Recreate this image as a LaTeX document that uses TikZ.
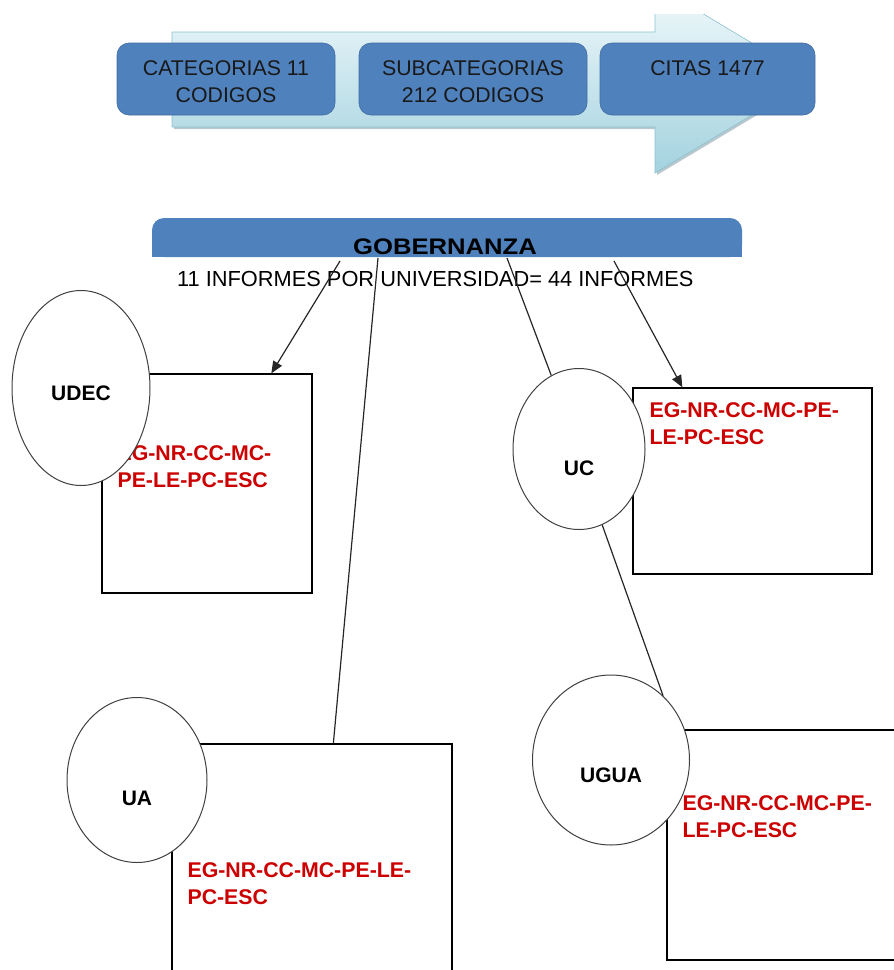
\documentclass[tikz,border=0pt]{standalone}
\usepackage{fontspec}
\setmainfont{Liberation Sans}
\usetikzlibrary{arrows.meta,shapes.geometric,calc}

\definecolor{boxblue}{RGB}{79,129,189}
\definecolor{redtxt}{RGB}{204,0,0}
\definecolor{arrowtop}{RGB}{242,250,252}
\definecolor{arrowbot}{RGB}{163,210,223}
\definecolor{arrowedge}{RGB}{140,192,208}

\begin{document}
\begin{tikzpicture}[x=1pt,y=-1pt,
  bluebox/.style={draw=boxblue!85!black, line width=0.6pt, fill=boxblue,
    rounded corners=12pt, minimum width=#1, minimum height=72pt, inner sep=0pt},
  boxtext/.style={font=\fontsize{21.3}{27}\selectfont, text=black!90,
    align=center, inner sep=0pt, anchor=north},
  redtext/.style={font=\bfseries\fontsize{21.3}{27.5}\selectfont, text=redtxt,
    align=left, inner sep=0pt, anchor=north west},
  ulabel/.style={font=\bfseries\fontsize{21}{25}\selectfont, inner sep=0pt},
  infobox/.style={draw=black, line width=1.3pt, fill=white, inner sep=0pt},
  uni/.style={ellipse, draw=black!75, line width=1pt, fill=white, inner sep=0pt},
  link/.style={draw=black!85, line width=1.2pt},
  arrowlink/.style={link, -{Triangle[length=12pt,width=10pt]}}
]
\useasboundingbox (0,0) rectangle (894,970);
\clip (0,0) rectangle (894,970);

% process arrow behind the three blue boxes
\begin{scope}
  \clip (0,14) rectangle (894,200);
  \fill[arrowedge!70!black, opacity=0.45, shift={(2,2)}]
    (172,32) -- (655,32) -- (655,-15) -- (812,79) -- (655,173) -- (655,127) -- (172,127) -- cycle;
  \shadedraw[top color=arrowtop, bottom color=arrowbot, draw=arrowedge, line width=0.6pt]
    (172,32) -- (655,32) -- (655,-15) -- (812,79) -- (655,173) -- (655,127) -- (172,127) -- cycle;
\end{scope}

% blue stage boxes
\node[bluebox=218pt] (cat) at (226,79) {};
\node[bluebox=228pt] (sub) at (473,79) {};
\node[bluebox=215pt] (cit) at (707.5,79) {};
\node[boxtext] (cattxt) at ([yshift=-17.5pt]cat.north) {CATEGORIAS 11\\CODIGOS};
\node[boxtext] (subtxt) at ([yshift=-17.5pt]sub.north) {SUBCATEGORIAS\\212 CODIGOS};
\node[boxtext] (cittxt) at ([yshift=-17.5pt]cit.north) {CITAS 1477};

% title bar
\node[fill=boxblue, rounded corners=12pt, minimum width=590pt, minimum height=39pt,
  inner sep=0pt] (gob) at (447,237.5) {};
\fill[boxblue] (gob.west) rectangle (gob.south east);
\node[font=\bfseries\fontsize{22.5}{26}\selectfont, inner sep=0pt] (gobtxt) at (445,247)
  {\scalebox{1.14}[1]{GOBERNANZA}};
\node[font=\fontsize{21.8}{25}\selectfont, inner sep=0pt, anchor=west] (inf) at (177,279)
  {11 INFORMES POR UNIVERSIDAD= 44 INFORMES};

% report boxes
\node[infobox, minimum width=210pt, minimum height=219pt] (udecbox) at (207,483.5) {};
\node[infobox, minimum width=239pt, minimum height=186pt] (ucbox) at (752.5,481) {};
\node[infobox, minimum width=280pt, minimum height=246pt] (uabox) at (312,867) {};
\node[infobox, minimum width=253pt, minimum height=230pt] (uguabox) at (793.5,845) {};

\node[redtext] (udectxt) at ([xshift=16pt,yshift=-72pt]udecbox.north west) {EG-NR-CC-MC-\\PE-LE-PC-ESC};
\node[redtext] (uctxt) at ([xshift=17pt,yshift=-15pt]ucbox.north west) {EG-NR-CC-MC-PE-\\LE-PC-ESC};
\node[redtext] (uatxt) at ([xshift=16pt,yshift=-119pt]uabox.north west) {EG-NR-CC-MC-PE-LE-\\PC-ESC};
\node[redtext] (uguatxt) at ([xshift=16pt,yshift=-66pt]uguabox.north west) {EG-NR-CC-MC-PE-\\LE-PC-ESC};

% universities
\node[uni, minimum width=138pt, minimum height=195pt] (udec) at (81,388) {};
\node[uni, minimum width=132pt, minimum height=161pt] (uc) at (579,449) {};
\node[uni, minimum width=140pt, minimum height=165pt] (ua) at (137,780) {};
\node[uni, minimum width=157pt, minimum height=170pt] (ugua) at (611,760) {};
\node[ulabel] (udeclbl) at ([yshift=-5pt]udec.center) {UDEC};
\node[ulabel] (uclbl) at ([yshift=-19pt]uc.center) {UC};
\node[ulabel] (ualbl) at ([yshift=-18pt]ua.center) {UA};
\node[ulabel] (ugualbl) at ([yshift=-15pt]ugua.center) {UGUA};

% connectors from the title bar
\coordinate (g1) at (340,261);
\coordinate (g2) at (378,258);
\coordinate (g3) at (507,258);
\coordinate (g4) at (614,261);
\draw[arrowlink] (g1) -- ([xshift=170pt]udecbox.north west);
\draw[link] (g2) -- ([xshift=162pt]uabox.north west);
\draw[link] (g3) -- (uc);
\draw[arrowlink] (g4) -- ([xshift=50pt]ucbox.north west);
\draw[link] (uc.-73) -- (ugua.51);
\end{tikzpicture}
\end{document}
